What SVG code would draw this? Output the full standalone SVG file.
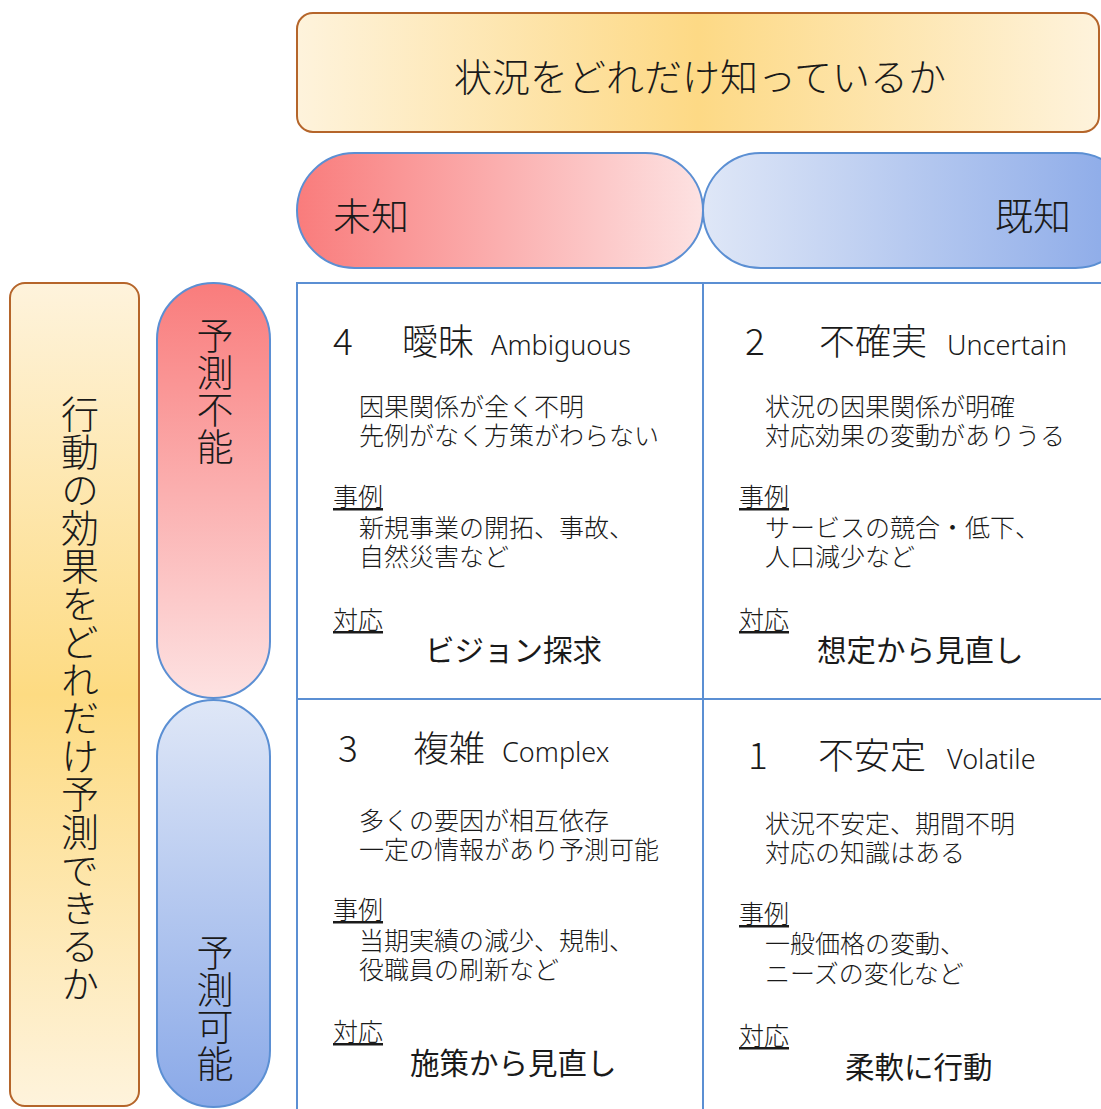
<svg xmlns="http://www.w3.org/2000/svg" width="1101" height="1109" viewBox="0 0 1101 1109">
<defs>
<linearGradient id="gBanner" x1="0" y1="0" x2="1" y2="0">
<stop offset="0" stop-color="#fef3dc"/><stop offset="0.5" stop-color="#fdd985"/><stop offset="1" stop-color="#fef3dc"/>
</linearGradient>
<linearGradient id="gSide" x1="0" y1="0" x2="0" y2="1">
<stop offset="0" stop-color="#fef3dc"/><stop offset="0.5" stop-color="#fddb82"/><stop offset="1" stop-color="#fef3dc"/>
</linearGradient>
<linearGradient id="gRedH" x1="0" y1="0" x2="1" y2="0">
<stop offset="0" stop-color="#f97c7c"/><stop offset="1" stop-color="#fde2e2"/>
</linearGradient>
<linearGradient id="gBlueH" x1="0" y1="0" x2="1" y2="0">
<stop offset="0" stop-color="#dfe7f7"/><stop offset="1" stop-color="#8aa9e8"/>
</linearGradient>
<linearGradient id="gRedV" x1="0" y1="0" x2="0" y2="1">
<stop offset="0" stop-color="#f97c7c"/><stop offset="1" stop-color="#fde2e2"/>
</linearGradient>
<linearGradient id="gBlueV" x1="0" y1="0" x2="0" y2="1">
<stop offset="0" stop-color="#dfe7f7"/><stop offset="1" stop-color="#8aa9e8"/>
</linearGradient>
</defs>
<style>
text{font-family:"Noto Sans CJK JP","Noto Sans",sans-serif;fill:#1a1a1a;font-weight:300;}
.brown{stroke:#b5652a;stroke-width:2;}
.blue{stroke:#5b8fd3;stroke-width:2;}
.head{font-size:38px;}
.vert{writing-mode:vertical-rl;text-anchor:middle;}
.num{font-size:37px;}
.ttl{font-size:36px;}
.lat{font-size:27px;font-family:"Noto Sans","DejaVu Sans",sans-serif;}
.body{font-size:25px;}
.lbl{font-size:25px;text-decoration:underline;}
.resp{font-size:29.5px;font-weight:400;}
</style>
<rect width="1101" height="1109" fill="#ffffff"/>

<g id="banner-top">
<rect x="297" y="13" width="802" height="119" rx="16" fill="url(#gBanner)" class="brown"/>
<text x="700" y="91" class="head" text-anchor="middle">状況をどれだけ知っているか</text>
</g>

<g id="pill-unknown">
<rect x="297" y="153" width="406" height="115" rx="57.5" fill="url(#gRedH)" class="blue"/>
<text x="333" y="230" class="head">未知</text>
</g>
<g id="pill-known">
<rect x="703" y="153" width="430" height="115" rx="57.5" fill="url(#gBlueH)" class="blue"/>
<text x="1071" y="230" class="head" text-anchor="end">既知</text>
</g>

<g id="banner-side">
<rect x="10" y="283" width="129" height="823" rx="15" fill="url(#gSide)" class="brown"/>
<text x="80" y="699" class="head vert">行動の効果をどれだけ予測できるか</text>
</g>

<g id="pill-unpredictable">
<rect x="157" y="283" width="113" height="415" rx="56.5" fill="url(#gRedV)" class="blue"/>
<text x="215" y="391" style="font-size:37px" class="vert">予測不能</text>
</g>
<g id="pill-predictable">
<rect x="157" y="700" width="113" height="407" rx="56.5" fill="url(#gBlueV)" class="blue"/>
<text x="215" y="1008" style="font-size:37px" class="vert">予測可能</text>
</g>

<g id="connectors">
<rect x="297" y="283" width="830" height="840" fill="none" class="blue"/>
<line x1="703" y1="283" x2="703" y2="1109" class="blue"/>
<line x1="297" y1="699" x2="1101" y2="699" class="blue"/>
</g>

<g id="q4">
<text x="333" y="355" class="num">4</text>
<text x="402" y="355" class="ttl">曖昧</text>
<text x="491" y="355" class="lat">Ambiguous</text>
<text x="359" y="416" class="body">因果関係が全く不明</text>
<text x="359" y="445" class="body">先例がなく方策がわらない</text>
<text x="333" y="506" class="lbl">事例</text>
<text x="359" y="537" class="body">新規事業の開拓、事故、</text>
<text x="359" y="566" class="body">自然災害など</text>
<text x="333" y="629" class="lbl">対応</text>
<text x="425" y="661" class="resp">ビジョン探求</text>
</g>

<g id="q2">
<text x="745" y="355" class="num">2</text>
<text x="819" y="355" class="ttl">不確実</text>
<text x="947" y="355" class="lat">Uncertain</text>
<text x="765" y="416" class="body">状況の因果関係が明確</text>
<text x="765" y="445" class="body">対応効果の変動がありうる</text>
<text x="739" y="506" class="lbl">事例</text>
<text x="765" y="537" class="body">サービスの競合・低下、</text>
<text x="765" y="566" class="body">人口減少など</text>
<text x="739" y="629" class="lbl">対応</text>
<text x="817" y="661" class="resp">想定から見直し</text>
</g>

<g id="q3">
<text x="338" y="762" class="num">3</text>
<text x="413" y="762" class="ttl">複雑</text>
<text x="502" y="762" class="lat">Complex</text>
<text x="359" y="830" class="body">多くの要因が相互依存</text>
<text x="359" y="859" class="body">一定の情報があり予測可能</text>
<text x="333" y="919" class="lbl">事例</text>
<text x="359" y="950" class="body">当期実績の減少、規制、</text>
<text x="359" y="979" class="body">役職員の刷新など</text>
<text x="333" y="1041" class="lbl">対応</text>
<text x="410" y="1074" class="resp">施策から見直し</text>
</g>

<g id="q1">
<text x="748" y="769" class="num">1</text>
<text x="818" y="769" class="ttl">不安定</text>
<text x="947" y="769" class="lat">Volatile</text>
<text x="765" y="833" class="body">状況不安定、期間不明</text>
<text x="765" y="862" class="body">対応の知識はある</text>
<text x="739" y="923" class="lbl">事例</text>
<text x="765" y="953" class="body">一般価格の変動、</text>
<text x="765" y="983" class="body">ニーズの変化など</text>
<text x="739" y="1045" class="lbl">対応</text>
<text x="845" y="1078" class="resp">柔軟に行動</text>
</g>
</svg>
